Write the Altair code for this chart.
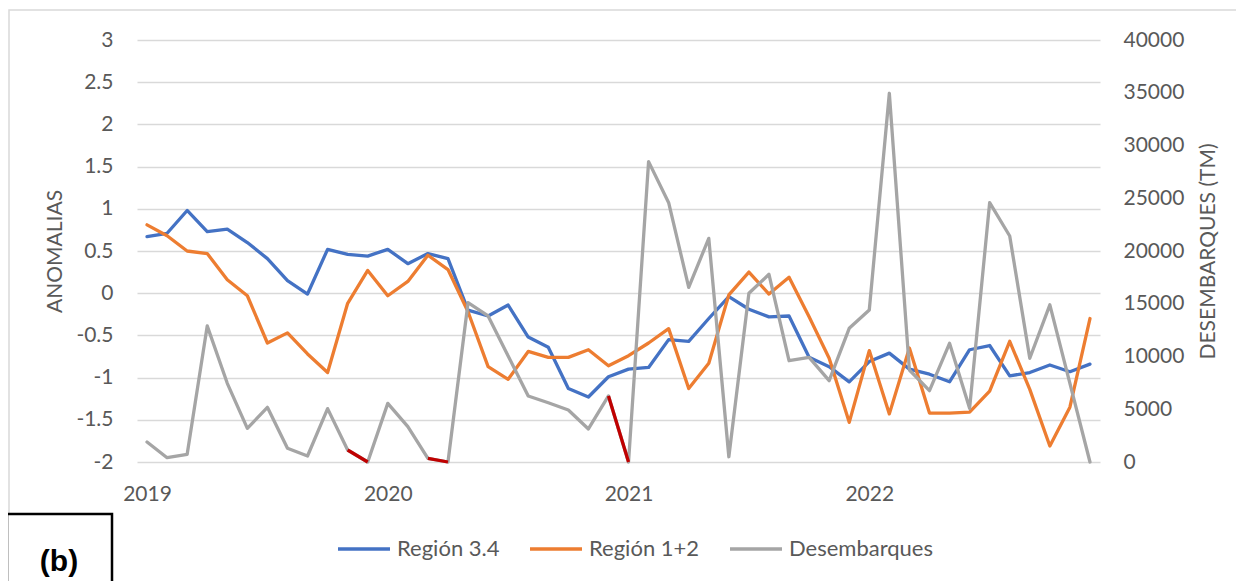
import altair as alt
import pandas as pd

# ---------------- data ----------------
months = list(range(48))  # Jan 2019 .. Dec 2022
year_labels = ["2019", "2020", "2021", "2022"]
series_names = ["Región 3.4", "Región 1+2", "Desembarques"]

region34 = [0.67, 0.71, 0.98, 0.73, 0.76, 0.60, 0.41, 0.15, -0.01, 0.52, 0.46, 0.44,
            0.52, 0.35, 0.47, 0.41, -0.20, -0.27, -0.14, -0.52, -0.64, -1.13, -1.23, -0.99,
            -0.90, -0.88, -0.55, -0.57, -0.30, -0.04, -0.19, -0.28, -0.27, -0.76, -0.87, -1.05,
            -0.81, -0.71, -0.90, -0.96, -1.05, -0.67, -0.62, -0.98, -0.94, -0.85, -0.93, -0.84]

region12 = [0.81, 0.68, 0.50, 0.47, 0.16, -0.03, -0.59, -0.47, -0.72, -0.94, -0.12, 0.27,
            -0.03, 0.14, 0.45, 0.28, -0.22, -0.87, -1.02, -0.69, -0.76, -0.76, -0.67, -0.86,
            -0.74, -0.59, -0.42, -1.13, -0.83, -0.02, 0.25, -0.01, 0.19, -0.28, -0.77, -1.53,
            -0.68, -1.43, -0.65, -1.42, -1.42, -1.41, -1.16, -0.57, -1.14, -1.81, -1.35, -0.30]

desembarques = [1900, 410, 730, 12900, 7460, 3190, 5180, 1300, 570, 5060, 1140, 0,
                5560, 3350, 350, 0, 15100, 13840, 10050, 6260, 5620, 4930, 3130, 6260,
                0, 28470, 24580, 16560, 21200, 500, 15990, 17790, 9600, 9920, 7710, 12670,
                14410, 34950, 8720, 6760, 11250, 5090, 24580, 21420, 9830, 14900, 7460, 0]

# segments of the landings line drawn in dark red (start month index)
red_starts = [10, 14, 23]

left_ticks = [-2, -1.5, -1, -0.5, 0, 0.5, 1, 1.5, 2, 2.5, 3]
right_ticks = [0, 5000, 10000, 15000, 20000, 25000, 30000, 35000, 40000]

# ---------------- tables ----------------
left_df = pd.DataFrame({
    "m": months * 2,
    "v": region34 + region12,
    "s": [series_names[0]] * len(months) + [series_names[1]] * len(months),
})
right_df = pd.DataFrame({"m": months, "v": desembarques, "s": series_names[2]})
red_rows = []
for k, st in enumerate(red_starts):
    for j in (st, st + 1):
        red_rows.append({"m": j, "v": desembarques[j], "seg": k})
red_df = pd.DataFrame(red_rows)
one = pd.DataFrame({"a": [0]})

# ---------------- styling ----------------
FONT = "Lato"
TXT = "#595959"
GRID = "#D9D9D9"
LW = 3.3
colors = ["#4472C4", "#ED7D31", "#A5A5A5"]

W, H = 963, 422

label_expr_x = "[" + ",".join("'%s'" % y for y in year_labels) + "][datum.value/12]"

xenc = alt.X(
    "m:Q",
    scale=alt.Scale(domain=[-0.5, 47.5], nice=False, zero=False),
    axis=alt.Axis(values=[0, 12, 24, 36], labelExpr=label_expr_x, domain=False, ticks=False,
                  grid=False, labelFont=FONT, labelFontSize=21, labelColor=TXT,
                  labelPadding=32, labelBaseline="middle", title=None),
)

color_enc = alt.Color(
    "s:N",
    scale=alt.Scale(domain=series_names, range=colors),
    legend=alt.Legend(orient="none", legendX=199, legendY=481, direction="horizontal",
                      title=None, symbolType="stroke", symbolSize=2704,
                      symbolStrokeWidth=LW, labelFont=FONT, labelFontSize=22,
                      labelColor=TXT, labelOffset=5, columnPadding=23, padding=0,
                      labelLimit=300),
)

y_left = alt.Y(
    "v:Q",
    scale=alt.Scale(domain=[-2, 3], nice=False, zero=False),
    axis=alt.Axis(orient="left", values=left_ticks, labelExpr="'' + datum.value",
                  grid=True, gridColor=GRID, gridWidth=1.3, domain=False, ticks=False,
                  labelPadding=24, labelFont=FONT, labelFontSize=21, labelColor=TXT,
                  title="ANOMALIAS", titleFont=FONT, titleFontSize=21,
                  titleFontWeight="normal", titleColor=TXT, titleAngle=270,
                  titleX=-82, titleY=211, titleAlign="center", titleBaseline="middle"),
)

y_right = alt.Y(
    "v:Q",
    scale=alt.Scale(domain=[0, 40000], nice=False, zero=True),
    axis=alt.Axis(orient="right", values=right_ticks, labelExpr="'' + datum.value",
                  grid=False, domain=False, ticks=False,
                  labelPadding=23, labelFont=FONT, labelFontSize=21, labelColor=TXT,
                  title="DESEMBARQUES (TM)", titleFont=FONT, titleFontSize=21,
                  titleFontWeight="normal", titleColor=TXT, titleAngle=270,
                  titleX=108, titleY=211, titleAlign="center", titleBaseline="middle"),
)

border = alt.Chart(one).mark_rect(fillOpacity=0, stroke=GRID, strokeWidth=1.5).encode(
    x=alt.value(-128), x2=alt.value(1120), y=alt.value(-30), y2=alt.value(600)
)

lines_left = alt.Chart(left_df).mark_line(strokeWidth=LW, strokeJoin="round", strokeCap="round").encode(
    x=xenc, y=y_left, color=color_enc, order="m:Q"
)

gray = alt.Chart(right_df).mark_line(strokeWidth=LW, strokeJoin="round", strokeCap="round").encode(
    x=xenc, y=y_right, color=color_enc, order="m:Q"
)
red = alt.Chart(red_df).mark_line(strokeWidth=LW, strokeJoin="round", color="#C00000").encode(
    x=xenc, y=y_right, detail="seg:N", order="m:Q"
)

box = alt.Chart(one).mark_rect(fill="white", stroke="black", strokeWidth=2.5).encode(
    x=alt.value(-130), x2=alt.value(-25), y=alt.value(474), y2=alt.value(600)
)
btext = alt.Chart(one).mark_text(text="(b)", font="Liberation Sans", fontSize=30,
                                 fontWeight="bold", color="black", align="center",
                                 baseline="middle").encode(
    x=alt.value(-78), y=alt.value(522)
)

left = alt.layer(border, lines_left)
right = alt.layer(gray, red)

chart = alt.layer(left, right, box, btext).resolve_scale(y="independent").properties(
    width=W, height=H,
    padding={"left": 129, "top": 32, "right": 136, "bottom": 119},
    autosize=alt.AutoSizeParams(type="none"),
).configure_view(stroke=None)

chart.save("out.html", embed_options={"renderer": "svg", "actions": False})
